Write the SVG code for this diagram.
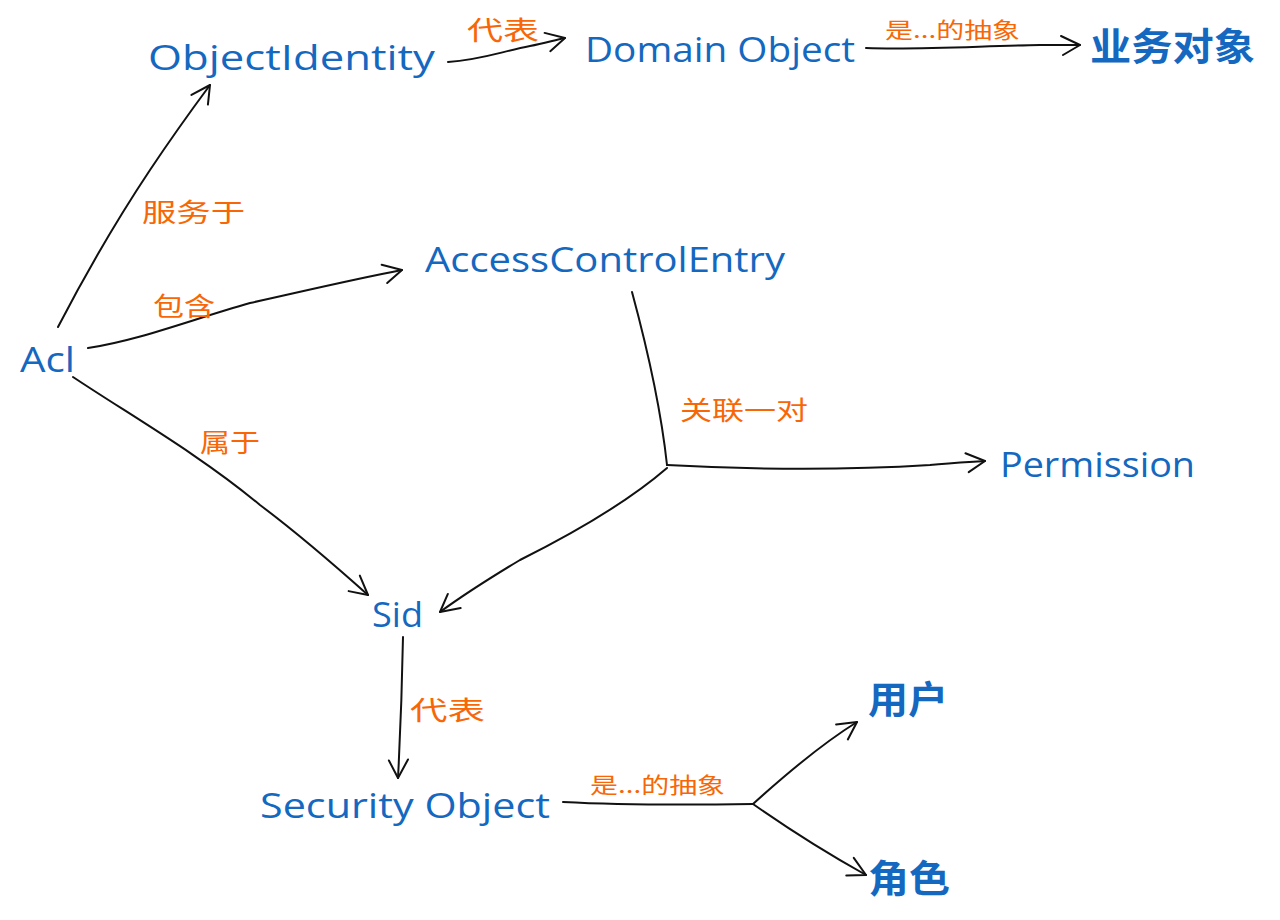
<svg xmlns="http://www.w3.org/2000/svg" width="1280" height="920" viewBox="0 0 1280 920">
  <style>
    .node { font-family: "Open Sans", "Noto Sans", "Liberation Sans", sans-serif; font-size: 34px; fill: #1468c0; }
    .cjk { font-family: "Noto Sans CJK SC", "Noto Sans", sans-serif; font-size: 38px; font-weight: bold; fill: #1468c0; }
    .lbl { font-family: "Noto Sans CJK SC", "Noto Sans", sans-serif; font-size: 26px; fill: #f76707; }
    .lbls { font-family: "Noto Sans CJK SC", "Noto Sans", sans-serif; font-size: 22px; fill: #f76707; }
    .edge { fill: none; stroke: #111111; stroke-width: 2; stroke-linecap: round; stroke-linejoin: round; }
  </style>
  <defs>
    <marker id="arrow" markerUnits="userSpaceOnUse" markerWidth="40" markerHeight="40" refX="0" refY="0" viewBox="-30 -20 40 40" orient="auto" overflow="visible">
      <path d="M -19 -9 L 0 0 L -17 10" fill="none" stroke="#111111" stroke-width="2" stroke-linecap="round" stroke-linejoin="round"/>
    </marker>
  </defs>
  <rect width="1280" height="920" fill="#ffffff"/>

  <g id="connectors">
    <path class="edge" marker-end="url(#arrow)" d="M 58 327 C 85 275, 120 215, 150 170 C 170 140, 190 112, 210 85"/>
    <path class="edge" marker-end="url(#arrow)" d="M 448 62 C 480 60, 500 52, 530 46 C 545 43, 555 40, 565 38"/>
    <path class="edge" marker-end="url(#arrow)" d="M 866 48 C 920 50, 980 46, 1040 45 C 1055 45, 1068 45, 1080 45"/>
    <path class="edge" marker-end="url(#arrow)" d="M 88 348 C 140 340, 190 320, 250 303 C 300 292, 350 280, 402 270"/>
    <path class="edge" marker-end="url(#arrow)" d="M 73 377 C 130 415, 200 455, 260 505 C 300 535, 340 570, 368 595"/>
    <path class="edge" d="M 632 292 C 645 340, 660 400, 667 465"/>
    <path class="edge" marker-end="url(#arrow)" d="M 667 465 C 760 470, 850 470, 930 465 C 950 463, 970 462, 985 461"/>
    <path class="edge" marker-end="url(#arrow)" d="M 667 468 C 630 500, 580 530, 520 560 C 490 578, 462 596, 440 612"/>
    <path class="edge" marker-end="url(#arrow)" d="M 403 637 C 402 690, 400 740, 398 778"/>
    <path class="edge" d="M 563 802 C 620 805, 690 805, 753 804"/>
    <path class="edge" marker-end="url(#arrow)" d="M 753 804 C 785 775, 820 745, 857 722"/>
    <path class="edge" marker-end="url(#arrow)" d="M 753 804 C 790 830, 830 855, 866 875"/>
  </g>

  <g id="labels">
    <text class="lbl" x="467" y="40" textLength="72" lengthAdjust="spacingAndGlyphs">代表</text>
    <text class="lbls" x="885" y="38" textLength="135" lengthAdjust="spacingAndGlyphs">是...的抽象</text>
    <text class="lbl" x="142" y="222" textLength="103" lengthAdjust="spacingAndGlyphs">服务于</text>
    <text class="lbl" x="153" y="316" textLength="62" lengthAdjust="spacingAndGlyphs">包含</text>
    <text class="lbl" x="200" y="452" textLength="60" lengthAdjust="spacingAndGlyphs">属于</text>
    <text class="lbl" x="680" y="420" textLength="128" lengthAdjust="spacingAndGlyphs">关联一对</text>
    <text class="lbl" x="410" y="720" textLength="75" lengthAdjust="spacingAndGlyphs">代表</text>
    <text class="lbls" x="590" y="793" textLength="135" lengthAdjust="spacingAndGlyphs">是...的抽象</text>
  </g>

  <g id="node-objectidentity"><text class="node" x="148" y="70" textLength="287" lengthAdjust="spacingAndGlyphs">ObjectIdentity</text></g>
  <g id="node-domainobject"><text class="node" x="585" y="62" textLength="270" lengthAdjust="spacingAndGlyphs">Domain Object</text></g>
  <g id="node-business"><text class="cjk" x="1090" y="60" textLength="165" lengthAdjust="spacingAndGlyphs">业务对象</text></g>
  <g id="node-ace"><text class="node" x="425" y="272" textLength="360" lengthAdjust="spacingAndGlyphs">AccessControlEntry</text></g>
  <g id="node-acl"><text class="node" x="20" y="372" textLength="55" lengthAdjust="spacingAndGlyphs">Acl</text></g>
  <g id="node-permission"><text class="node" x="1000" y="477" textLength="195" lengthAdjust="spacingAndGlyphs">Permission</text></g>
  <g id="node-sid"><text class="node" x="372" y="627" textLength="51" lengthAdjust="spacingAndGlyphs">Sid</text></g>
  <g id="node-securityobject"><text class="node" x="260" y="818" textLength="290" lengthAdjust="spacingAndGlyphs">Security Object</text></g>
  <g id="node-user"><text class="cjk" x="868" y="713" textLength="80" lengthAdjust="spacingAndGlyphs">用户</text></g>
  <g id="node-role"><text class="cjk" x="868" y="892" textLength="82" lengthAdjust="spacingAndGlyphs">角色</text></g>
</svg>
